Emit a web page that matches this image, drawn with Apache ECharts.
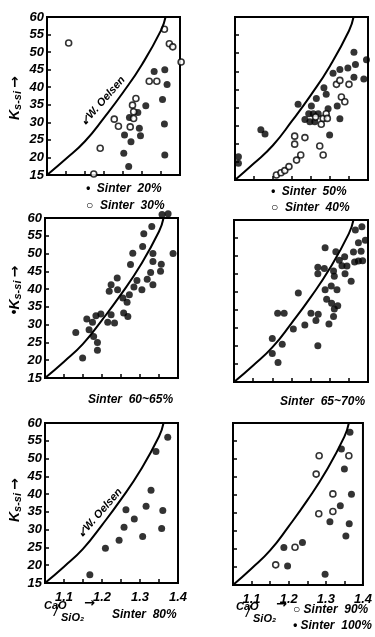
<!DOCTYPE html>
<html>
<head>
<meta charset="utf-8">
<script src="https://cdn.jsdelivr.net/npm/echarts@6/dist/echarts.min.js"></script>
<style>
  html, body { margin: 0; padding: 0; background: #fff; }
  #chart { width: 375px; height: 637px; }
</style>
</head>
<body>
<div id="chart"></div>
<script>
// W. Oelsen curve (same in every panel)
var oelsenX = [1.05, 1.10, 1.15, 1.20, 1.25, 1.30, 1.35, 1.362];
var oelsenY = [15, 19.6, 24.6, 31.3, 38.5, 46.5, 56.2, 60];
var yTicks = [15, 20, 25, 30, 35, 40, 45, 50, 55, 60];
var xTicks = ['1.1', '1.2', '1.3', '1.4'];

// panel 1: Sinter 20% (filled) / 30% (open)
var sinter20 = [[1.332,44.5],[1.36,45],[1.366,40.8],[1.354,36.5],[1.359,29.5],[1.36,20.7],[1.31,34.7],
  [1.289,32.8],[1.267,31.4],[1.293,28.3],[1.296,26.2],[1.254,26.4],[1.271,24.5],[1.252,21.2],[1.265,17.4]];
var sinter30 = [[1.107,52.6],[1.19,22.6],[1.173,15.3],[1.227,30.9],[1.238,28.9],[1.269,28.7],[1.275,34.9],
  [1.278,33],[1.278,31.1],[1.284,36.8],[1.319,41.7],[1.339,41.7],[1.359,56.5],[1.372,52.4],[1.381,51.5],[1.403,47.2]];
// panel 2: Sinter 50% (filled) / 40% (open)
var sinter50 = [[1.059,21.4],[1.059,19.6],[1.118,28.9],[1.129,27.7],[1.216,35.9],[1.251,35.4],[1.264,37.5],
  [1.284,40.5],[1.29,38.7],[1.308,44.5],[1.326,45.5],[1.347,45.9],[1.363,50.3],[1.367,46.9],[1.396,48.2],
  [1.389,42.9],[1.363,43.4],[1.319,35.4],[1.295,34.7],[1.326,31.9],[1.299,27.4],[1.234,31.7],[1.247,31.1],
  [1.26,31.1],[1.256,33.3],[1.269,33.3],[1.244,33.3]];
var sinter40 = [[1.159,16.4],[1.171,17],[1.181,17.6],[1.192,18.7],[1.212,20.5],[1.223,21.9],[1.207,24.9],
  [1.207,27.1],[1.234,26.7],[1.273,24.4],[1.282,21.9],[1.277,30.4],[1.282,32],[1.29,33.3],[1.293,32],
  [1.262,32.4],[1.317,41.4],[1.33,37.9],[1.339,36.6],[1.35,41.4],[1.326,42.5]];
// panel 3: Sinter 60~65%
var sinter60 = [[1.131,27.8],[1.149,20.6],[1.16,31.6],[1.166,28.6],[1.175,30.7],[1.178,26.7],[1.188,25],
  [1.188,22.8],[1.184,32.5],[1.197,33],[1.219,39.4],[1.224,41.2],[1.224,32.8],[1.215,30.7],[1.233,30.5],
  [1.24,43.1],[1.241,39.8],[1.255,37.5],[1.257,33.3],[1.266,36.3],[1.268,32.3],[1.272,38.4],[1.275,46.9],
  [1.281,50.1],[1.284,40.6],[1.292,42.4],[1.305,39.8],[1.31,55.6],[1.307,52],[1.319,42.8],[1.331,57.6],
  [1.334,50],[1.334,47.8],[1.328,44.7],[1.334,41.2],[1.356,47],[1.354,45],[1.358,61],[1.374,61.2],[1.387,50]];
// panel 4: Sinter 65~70%
var sinter65 = [[1.15,27.1],[1.15,22.9],[1.165,20.4],[1.176,25.5],[1.164,34.1],[1.181,34.1],[1.205,29.7],
  [1.218,39.7],[1.235,30.8],[1.251,34.1],[1.264,32.1],[1.27,33.8],[1.269,25.1],[1.269,46.9],[1.269,45.1],
  [1.288,52.3],[1.286,46.5],[1.288,40.6],[1.292,38],[1.298,31.1],[1.304,41.7],[1.31,45.8],[1.312,44.4],
  [1.305,36.9],[1.312,35.3],[1.321,36.2],[1.31,33.2],[1.319,40.6],[1.316,51.2],[1.325,48.8],[1.332,47.3],
  [1.339,49.8],[1.34,45.1],[1.345,47.2],[1.356,43],[1.362,51.1],[1.365,48.3],[1.367,57.2],[1.375,53.7],
  [1.375,48.6],[1.384,58.1],[1.382,51.3],[1.393,54.4],[1.386,48.7]];
// panel 5: Sinter 80%
var sinter80 = [[1.168,17.3],[1.209,24.8],[1.245,27],[1.258,30.7],[1.263,35.6],[1.285,33],[1.307,28.1],
  [1.316,36.6],[1.329,41.1],[1.342,52],[1.357,30.3],[1.36,35.4],[1.373,56]];
// panel 6: Sinter 90% (open) / 100% (filled)
var sinter90 = [[1.165,20.6],[1.217,25.5],[1.281,34.8],[1.274,45.8],[1.282,50.9],[1.319,40.3],[1.319,35.4],[1.362,50.9]];
var sinter100 = [[1.187,25.4],[1.197,20.3],[1.237,26.8],[1.298,18],[1.311,32.6],[1.339,37],[1.342,52.8],
  [1.35,47.2],[1.365,57.4],[1.369,40.2],[1.363,32],[1.354,28.6]];

var font = 'italic bold 12px "Liberation Sans", sans-serif';
var grids = [
  { left: 47, top: 17, width: 133, height: 158 },
  { left: 235, top: 17, width: 133, height: 163 },
  { left: 45, top: 218, width: 133, height: 160 },
  { left: 234, top: 220, width: 134, height: 162 },
  { left: 45, top: 423, width: 133, height: 160 },
  { left: 233, top: 423, width: 134, height: 162 }
];
var lineStyle = { color: '#000', width: 2 };

var xAxes = [], yAxes = [], series = [];
grids.forEach(function (g, i) {
  g.show = true;
  g.borderColor = '#000';
  g.borderWidth = 2;
  xAxes.push({
    gridIndex: i, type: 'value', min: 1.05, max: 1.4, interval: 0.05,
    axisLine: { show: true, lineStyle: lineStyle },
    axisTick: { show: true, inside: true, length: 4, lineStyle: { color: '#000', width: 1.5 } },
    splitLine: { show: false },
    axisLabel: {
      show: i >= 4, margin: 8, color: '#000', fontFamily: 'Liberation Sans', fontStyle: 'italic',
      fontWeight: 'bold', fontSize: 13,
      formatter: function (v) {
        var s = v.toFixed(1);
        return (Math.abs(v * 10 - Math.round(v * 10)) < 0.01 && xTicks.indexOf(s) >= 0) ? s : '';
      }
    }
  });
  yAxes.push({
    gridIndex: i, type: 'value', min: 15, max: 60, interval: 5,
    axisLine: { show: true, lineStyle: lineStyle },
    axisTick: { show: true, inside: true, length: 4, lineStyle: { color: '#000', width: 1.5 } },
    splitLine: { show: false },
    axisLabel: {
      show: i % 2 === 0, margin: 3, color: '#000', fontFamily: 'Liberation Sans', fontStyle: 'italic',
      fontWeight: 'bold', fontSize: 13,
      formatter: function (v) { return yTicks.indexOf(v) >= 0 ? String(v) : ''; }
    }
  });
  series.push({
    type: 'line', xAxisIndex: i, yAxisIndex: i, smooth: true, symbol: 'none',
    lineStyle: { color: '#000', width: 2 }, silent: true,
    data: oelsenX.map(function (x, k) { return [x, oelsenY[k]]; })
  });
});

function dots(name, idx, data, open) {
  return {
    name: name, type: 'scatter', xAxisIndex: idx, yAxisIndex: idx, data: data,
    symbolSize: open ? 6 : 7, clip: false,
    itemStyle: open ? { color: '#fff', borderColor: '#000', borderWidth: 1.6 } : { color: '#000' }
  };
}
series.push(dots('Sinter 20%', 0, sinter20, false));
series.push(dots('Sinter 30%', 0, sinter30, true));
series.push(dots('Sinter 50%', 1, sinter50, false));
series.push(dots('Sinter 40%', 1, sinter40, true));
series.push(dots('Sinter 60~65%', 2, sinter60, false));
series.push(dots('Sinter 65~70%', 3, sinter65, false));
series.push(dots('Sinter 80%', 4, sinter80, false));
series.push(dots('Sinter 90%', 5, sinter90, true));
series.push(dots('Sinter 100%', 5, sinter100, false));

function label(text, x, y, opts) {
  opts = opts || {};
  return {
    type: 'text', x: x, y: y, rotation: opts.rotation || 0, silent: true,
    style: {
      text: text, x: 0, y: 0, fill: '#000', font: opts.font || font,
      textAlign: opts.align || 'left', textVerticalAlign: 'middle', rich: opts.rich
    }
  };
}
var ksRich = {
  k: { font: 'italic bold 14px "Liberation Sans"', fill: '#000' },
  s: { font: 'italic bold 11px "Liberation Sans"', fill: '#000', padding: [5, 0, 0, 0] },
  a: { font: 'bold 14px "DejaVu Sans"', fill: '#000' }
};
function caoSio2(x, y) {
  return [
    label('CaO', x, y, { font: 'italic bold 11px "Liberation Sans"' }),
    label('/', x + 10, y + 6, { font: 'italic 16px "Liberation Sans"' }),
    label('SiO₂', x + 17, y + 12, { font: 'italic bold 11px "Liberation Sans"' }),
    label('→', x + 40, y - 2, { font: 'bold 13px "DejaVu Sans"' })
  ];
}

var graphics = [
  label('{k|K}{s|s-si} {a|→}', 15, 98, { rotation: Math.PI / 2, align: 'center', rich: ksRich }),
  label('{k|•K}{s|s-si} {a|→}', 15, 290, { rotation: Math.PI / 2, align: 'center', rich: ksRich }),
  label('{k|K}{s|s-si} {a|→}', 15, 500, { rotation: Math.PI / 2, align: 'center', rich: ksRich }),
  label('↙W. Oelsen', 103, 101, { rotation: 0.85, align: 'center', font: 'italic bold 11px "Liberation Sans"' }),
  label('↙W. Oelsen', 100, 513, { rotation: 0.85, align: 'center', font: 'italic bold 11px "Liberation Sans"' }),
  label('•  Sinter  20%', 86, 189),
  label('○  Sinter  30%', 86, 206),
  label('•  Sinter  50%', 271, 192),
  label('○  Sinter  40%', 271, 208),
  label('Sinter  60~65%', 88, 400),
  label('Sinter  65~70%', 280, 402),
  label('Sinter  80%', 112, 615),
  label('○ Sinter  90%', 293, 610),
  label('• Sinter  100%', 293, 626)
].concat(caoSio2(44, 606)).concat(caoSio2(236, 607));

var chart = echarts.init(document.getElementById('chart'));
chart.setOption({
  backgroundColor: '#fff',
  animation: false,
  grid: grids,
  xAxis: xAxes,
  yAxis: yAxes,
  series: series,
  graphic: graphics
});
</script>
</body>
</html>
